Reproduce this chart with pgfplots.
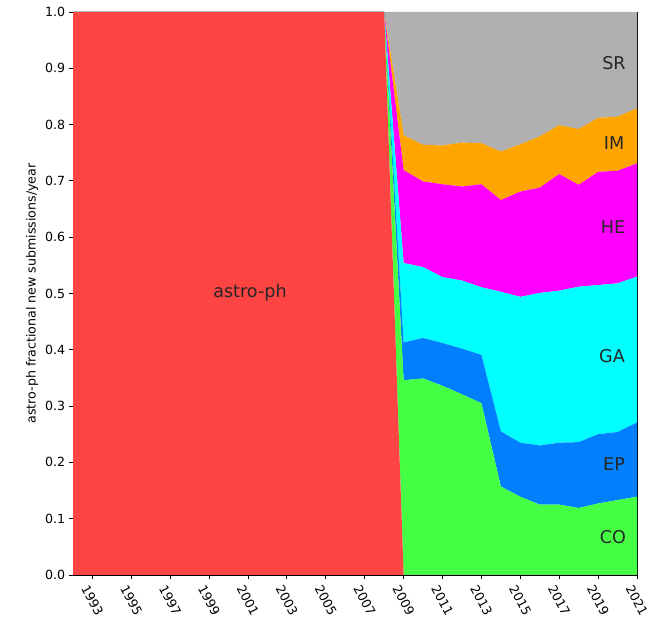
\documentclass[border=0pt]{standalone}
\usepackage{pgfplots}
\pgfplotsset{compat=1.18}
\usepackage{pgfplotstable}
\usepackage{fontspec}
\setmainfont{DejaVu Sans}
\usetikzlibrary{calc}
\definecolor{cAP}{RGB}{255,68,68}
\definecolor{cCO}{RGB}{68,255,68}
\definecolor{cEP}{RGB}{0,128,255}
\definecolor{cGA}{RGB}{0,255,255}
\definecolor{cHE}{RGB}{255,0,255}
\definecolor{cIM}{RGB}{255,165,0}
\definecolor{cSR}{RGB}{176,176,176}
\pgfplotstableread{
year astro CO EP GA HE IM SR
1992 1 0 0 0 0 0 0
2008 1 0 0 0 0 0 0
2009 0 0.346 0.067 0.141 0.165 0.062 0.219
2010 0 0.349 0.072 0.126 0.152 0.065 0.236
2011 0 0.336 0.076 0.117 0.165 0.069 0.237
2012 0 0.321 0.081 0.121 0.167 0.078 0.232
2013 0 0.305 0.086 0.120 0.183 0.073 0.233
2014 0 0.157 0.098 0.248 0.163 0.086 0.248
2015 0 0.139 0.096 0.259 0.187 0.084 0.235
2016 0 0.125 0.105 0.271 0.187 0.091 0.221
2017 0 0.125 0.110 0.270 0.207 0.087 0.201
2018 0 0.119 0.117 0.276 0.181 0.099 0.208
2019 0 0.127 0.123 0.265 0.201 0.096 0.188
2020 0 0.133 0.121 0.264 0.200 0.096 0.186
2021 0 0.139 0.132 0.259 0.201 0.098 0.171
}\datatable
\tikzset{lab/.style={font=\fontsize{17.6}{20}\selectfont, text=black!85}}
\begin{document}
\begin{tikzpicture}
\begin{axis}[
  name=ax,
  at={(0,0)}, anchor=south west,
  width=564pt, height=563pt, scale only axis,
  xmin=1992, xmax=2021, ymin=0, ymax=1,
  stack plots=y,
  xtick={1993,1995,...,2021},
  ytick={0,0.1,...,1.0},
  xtick pos=bottom, ytick pos=left,
  tick align=outside,
  major tick length=4.4pt,
  tick style={black, line width=0.9pt},
  axis line style={black, line width=0.9pt},
  /pgf/number format/assume math mode=true,
  xticklabel style={/pgf/number format/1000 sep={}, yshift=-21pt, rotate=-62, anchor=center},
  yticklabel style={/pgf/number format/.cd, fixed, fixed zerofill, precision=1},
  ticklabel style={font=\fontsize{12.6}{14}\selectfont, black},
  ylabel={astro-ph fractional new submissions/year},
  ylabel style={font=\fontsize{12.6}{14}\selectfont},
  clip=false,
]
\addplot[fill=cAP, draw=none] table[x=year, y=astro]{\datatable} \closedcycle;
\addplot[fill=cCO, draw=none] table[x=year, y=CO]{\datatable} \closedcycle;
\addplot[fill=cEP, draw=none] table[x=year, y=EP]{\datatable} \closedcycle;
\addplot[fill=cGA, draw=none] table[x=year, y=GA]{\datatable} \closedcycle;
\addplot[fill=cHE, draw=none] table[x=year, y=HE]{\datatable} \closedcycle;
\addplot[fill=cIM, draw=none] table[x=year, y=IM]{\datatable} \closedcycle;
\addplot[fill=cSR, draw=none] table[x=year, y=SR]{\datatable} \closedcycle;
\end{axis}
\node[lab] at ($(ax.south west)+(177pt,282pt)$) {astro-ph};
\node[lab] at ($(ax.south west)+(541pt,512pt)$) {SR};
\node[lab] at ($(ax.south west)+(541pt,432pt)$) {IM};
\node[lab] at ($(ax.south west)+(540pt,348pt)$) {HE};
\node[lab] at ($(ax.south west)+(539pt,219pt)$) {GA};
\node[lab] at ($(ax.south west)+(541pt,111pt)$) {EP};
\node[lab] at ($(ax.south west)+(540pt,38pt)$) {CO};
\pgfresetboundingbox
\path[use as bounding box] ($(ax.south west)+(-73pt,-45pt)$) rectangle ($(ax.north east)+(15pt,12pt)$);
\end{tikzpicture}
\end{document}
